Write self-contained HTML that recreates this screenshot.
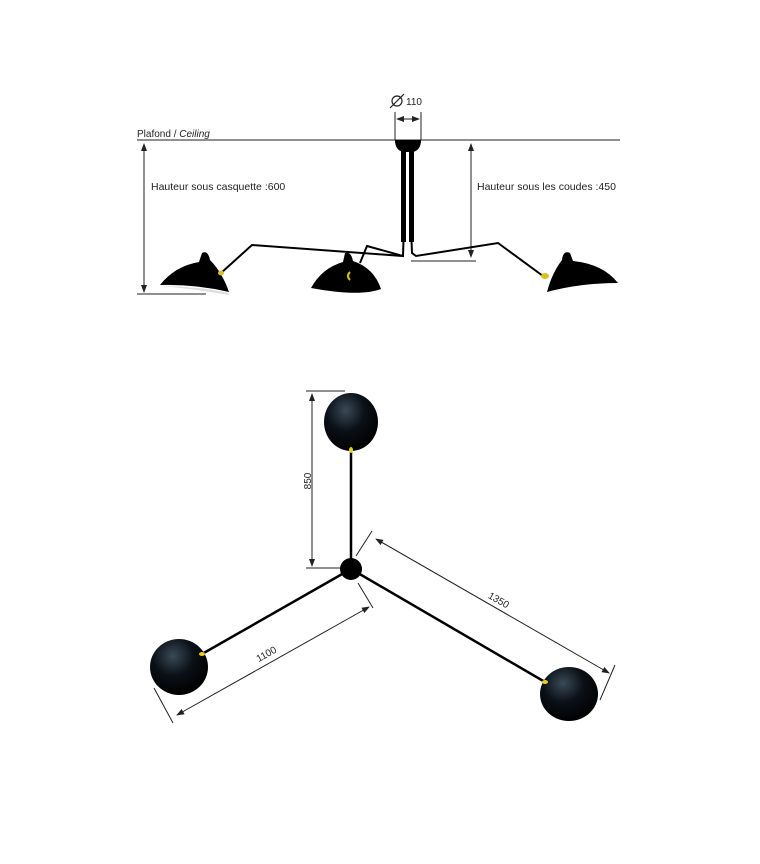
<!DOCTYPE html>
<html><head><meta charset="utf-8"><style>
html,body{margin:0;padding:0;background:#fff;}
svg{display:block;}
text{font-family:"Liberation Sans","DejaVu Sans",sans-serif;fill:#222;}
</style></head><body>
<svg width="760" height="864" viewBox="0 0 760 864" xmlns="http://www.w3.org/2000/svg">
<defs>
<marker id="a" markerWidth="8" markerHeight="6" refX="7" refY="3" orient="auto-start-reverse" markerUnits="userSpaceOnUse"><path d="M0,0 L8,3 L0,6 Z" fill="#222"/></marker>
<radialGradient id="g" cx="0.4" cy="0.3" r="0.7"><stop offset="0" stop-color="#3a4a55"/><stop offset="0.5" stop-color="#0b1118"/><stop offset="1" stop-color="#000"/></radialGradient>
</defs>
<!-- top view -->
<line x1="137" y1="140" x2="620" y2="140" stroke="#222" stroke-width="1"/>
<text x="137" y="137" font-size="10">Plafond / <tspan font-style="italic">Ceiling</tspan></text>
<line x1="395" y1="112" x2="395" y2="140" stroke="#222"/>
<line x1="421" y1="112" x2="421" y2="140" stroke="#222"/>
<line x1="397" y1="119" x2="419" y2="119" stroke="#222" marker-start="url(#a)" marker-end="url(#a)"/>
<circle cx="397" cy="101" r="5" fill="none" stroke="#222" stroke-width="1.2"/>
<line x1="390" y1="108" x2="404" y2="94" stroke="#222" stroke-width="1.2"/>
<text x="406" y="105" font-size="10">110</text>
<line x1="144" y1="144" x2="144" y2="292" stroke="#222" marker-start="url(#a)" marker-end="url(#a)"/>
<line x1="137" y1="294" x2="206" y2="294" stroke="#222"/>
<line x1="471" y1="144" x2="471" y2="257" stroke="#222" marker-start="url(#a)" marker-end="url(#a)"/>
<line x1="411" y1="261" x2="476" y2="261" stroke="#222"/>
<text x="151" y="190" font-size="10.5">Hauteur sous casquette :600</text>
<text x="477" y="190" font-size="10.5">Hauteur sous les coudes :450</text>
<!-- canopy & stems -->
<path d="M395,140 L421,140 Q421,150 413,152 L403,152 Q395,150 395,140 Z" fill="#000"/>
<rect x="401" y="150" width="5" height="92" fill="#000"/>
<rect x="409" y="150" width="5" height="92" fill="#000"/>
<g stroke="#000" stroke-width="2" fill="none">
<path d="M403.5,240 L403,256 L252,245 L221,273"/>
<path d="M403,256 L367,246 L360,263"/>
<path d="M411.5,240 L412,253 L416,256 L498,243 L543,276"/>
</g>
<!-- shades -->
<path d="M160,285 Q175,266 199,262 L202,253 Q208,250 210,260 Q222,272 229,292 Q195,284 160,285 Z" fill="#000"/>
<path d="M161,286 Q195,286 229,293 L229,295 Q195,289 161,286Z" fill="#ddd"/>
<path d="M311,288 Q322,268 343,262 L345,253 Q351,251 353,261 Q374,268 381,289 Q360,297 311,288 Z" fill="#000"/>
<path d="M618,283 Q603,264 573,261 L570,253 Q563,250 562,260 Q552,273 547,292 Q580,283 618,283 Z" fill="#000"/>
<ellipse cx="221" cy="273" rx="3" ry="2.5" fill="#d8c020"/>
<path d="M350,272 q-4,4 0,8" stroke="#d8c020" stroke-width="2" fill="none"/>
<ellipse cx="545" cy="276" rx="4" ry="3" fill="#d8c020"/>
<!-- plan view -->
<line x1="306" y1="391" x2="345" y2="391" stroke="#222"/>
<line x1="306" y1="568" x2="350" y2="568" stroke="#222"/>
<line x1="312" y1="394" x2="312" y2="566" stroke="#222" marker-start="url(#a)" marker-end="url(#a)"/>
<text x="0" y="0" font-size="10" transform="translate(311,481) rotate(-90)" text-anchor="middle">850</text>
<line x1="351" y1="450" x2="351" y2="569" stroke="#000" stroke-width="2.5"/>
<line x1="351" y1="569" x2="202" y2="654" stroke="#000" stroke-width="2.5"/>
<line x1="351" y1="569" x2="545" y2="682" stroke="#000" stroke-width="2.5"/>
<circle cx="351" cy="569" r="11" fill="#000"/>
<ellipse cx="351" cy="422" rx="27" ry="29" fill="url(#g)"/>
<ellipse cx="179" cy="667" rx="29" ry="28" fill="url(#g)"/>
<ellipse cx="569" cy="694" rx="29" ry="27" fill="url(#g)"/>
<ellipse cx="351" cy="450" rx="2" ry="3" fill="#e8d020"/>
<ellipse cx="202" cy="654" rx="3" ry="2" fill="#e8d020"/>
<ellipse cx="545" cy="682" rx="3" ry="2" fill="#e8d020"/>
<!-- 1350 -->
<line x1="372" y1="531" x2="356" y2="556" stroke="#222"/>
<line x1="615" y1="665" x2="600" y2="700" stroke="#222"/>
<line x1="376" y1="539" x2="609" y2="673" stroke="#222" marker-start="url(#a)" marker-end="url(#a)"/>
<text x="0" y="0" font-size="10" transform="translate(497,603) rotate(30)" text-anchor="middle">1350</text>
<!-- 1100 -->
<line x1="154" y1="688" x2="173" y2="723" stroke="#222"/>
<line x1="358" y1="583" x2="373" y2="608" stroke="#222"/>
<line x1="177" y1="715" x2="369" y2="607" stroke="#222" marker-start="url(#a)" marker-end="url(#a)"/>
<text x="0" y="0" font-size="10" transform="translate(268,657) rotate(-29)" text-anchor="middle">1100</text>
</svg>
</body></html>
